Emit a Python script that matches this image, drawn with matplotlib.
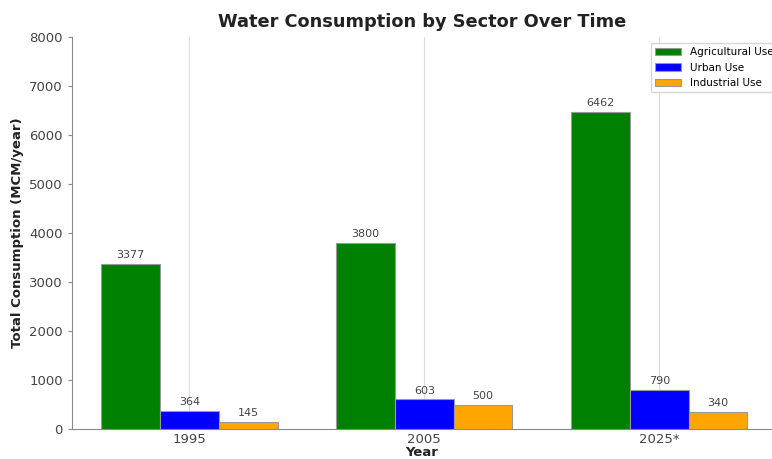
import numpy as np
import matplotlib.pyplot as plt

years = ['1995', '2005', '2025*']
agricultural = [3377, 3800, 6462]
urban = [364, 603, 790]
industrial = [145, 500, 340]

series = [
    ('Agricultural Use', agricultural, 'green'),
    ('Urban Use', urban, 'blue'),
    ('Industrial Use', industrial, 'orange'),
]

fig = plt.figure(figsize=(7.72, 4.59), dpi=100)
ax = fig.add_axes([72 / 772, 30 / 459, 1 - 72 / 772, 392 / 459])

x = np.arange(len(years))
width = 0.25
for i, (name, vals, color) in enumerate(series):
    pos = x + (i - 1) * width
    bars = ax.bar(pos, vals, width, label=name, color=color,
                  edgecolor='#999999', linewidth=0.8, zorder=3)
    for b, v in zip(bars, vals):
        ax.text(b.get_x() + b.get_width() / 2, v + 80, str(v),
                ha='center', va='bottom', fontsize=8, color='#444444', zorder=4)

ax.set_xlim(-0.5, 2.48)
ax.set_ylim(0, 8000)
ax.set_xticks(x)
ax.set_xticklabels(years)
ax.set_yticks(range(0, 8001, 1000))
ax.tick_params(colors='#444444', labelsize=9.5)
ax.tick_params(axis='x', length=0, pad=3)
ax.tick_params(axis='y', color='#888888', length=3)
ax.grid(axis='x', color='#dddddd', linewidth=0.8, zorder=0)
for s in ['top', 'right']:
    ax.spines[s].set_visible(False)
for s in ['left', 'bottom']:
    ax.spines[s].set_color('#888888')

ax.set_title('Water Consumption by Sector Over Time', fontsize=12.8,
             fontweight='bold', color='#222222', pad=7)
ax.set_ylabel('Total Consumption (MCM/year)', fontsize=9.5, fontweight='bold', color='#222222')
ax.set_xlabel('Year', fontsize=9.5, fontweight='bold', color='#222222', labelpad=0)

ax.legend(loc='upper left', bbox_to_anchor=(646 / 772, 1 - 38 / 459),
          bbox_transform=fig.transFigure, fontsize=7.5, frameon=True,
          edgecolor='#cccccc', handlelength=2.5)

fig.savefig('out.png', dpi=100)
